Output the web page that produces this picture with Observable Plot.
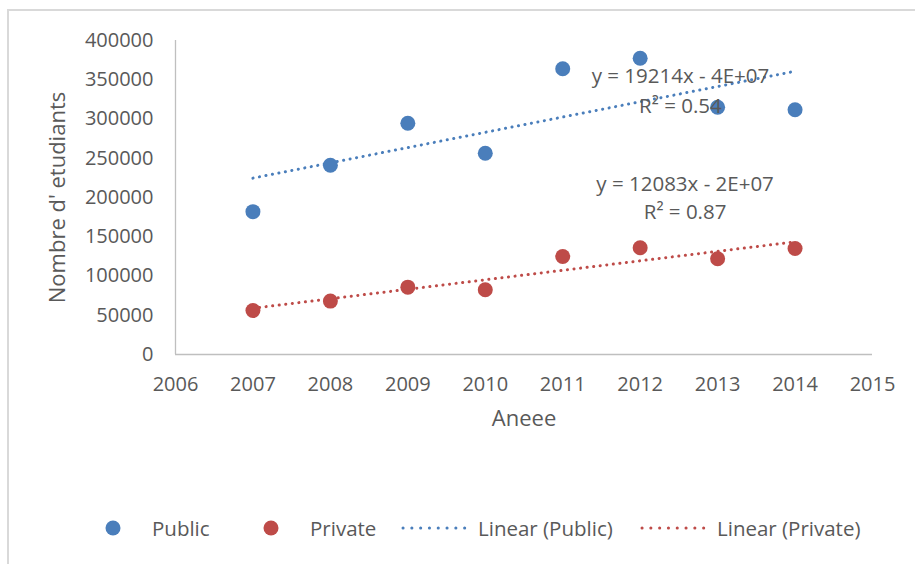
<!DOCTYPE html>
<html>
<head>
<meta charset="utf-8">
<script src="https://cdn.jsdelivr.net/npm/d3@7"></script>
<script src="https://cdn.jsdelivr.net/npm/@observablehq/plot@0.6"></script>
<style>
  html, body { margin: 0; padding: 0; background: #fff; }
  #frame { position: absolute; left: 7px; top: 9px; width: 908px; height: 555px; border-top: 2px solid #d9d9d9; border-left: 2px solid #d9d9d9; box-sizing: border-box; }
  #chart { position: absolute; left: 0; top: 0; }
  #legend { position: absolute; top: 512px; left: 0; width: 915px; height: 32px; font-family: "Open Sans", sans-serif; font-size: 20.5px; color: #595959; }
  .li { position: absolute; top: 0; display: flex; align-items: center; height: 32px; }
</style>
</head>
<body>
<div id="frame"></div>
<div id="chart"></div>
<div id="legend"></div>
<script>
const years = [2007, 2008, 2009, 2010, 2011, 2012, 2013, 2014];
const publicValues = [182000, 241000, 294600, 256400, 364000, 377400, 315000, 311700];
const privateValues = [56000, 68000, 85800, 82400, 124800, 135900, 121900, 135000];
const xTicks = [2006, 2007, 2008, 2009, 2010, 2011, 2012, 2013, 2014, 2015];
const yTicks = [0, 50000, 100000, 150000, 200000, 250000, 300000, 350000, 400000];
const equationLabels = ["y = 19214x - 4E+07", "R² = 0.54", "y = 12083x - 2E+07", "R² = 0.87"];
const equationYears = [2012.52, 2012.52, 2012.58, 2012.58];
const equationValues = [354000, 316000, 216600, 180900];

const blue = "#4a7ebb";
const red = "#be4b48";
const gray = "#595959";
const font = "Open Sans, sans-serif";

const pub = years.map((x, i) => ({x, y: publicValues[i]}));
const pri = years.map((x, i) => ({x, y: privateValues[i]}));
const eq = equationLabels.map((t, i) => ({t, x: equationYears[i], y: equationValues[i]}));

const chart = Plot.plot({
  width: 915,
  height: 470,
  marginLeft: 175,
  marginRight: 43,
  marginTop: 40,
  marginBottom: 116,
  style: {fontFamily: font, color: gray, background: "transparent"},
  x: {domain: [2006, 2015]},
  y: {domain: [0, 400000]},
  marks: [
    Plot.ruleY([0], {stroke: "#bfbfbf", strokeWidth: 1.3}),
    Plot.ruleX([2006], {y1: 0, y2: 400000, stroke: "#bfbfbf", strokeWidth: 1.3}),
    Plot.axisX({ticks: xTicks, tickFormat: d => String(d), tickSize: 0, tickPadding: 22, fontSize: 20, label: null, fill: gray}),
    Plot.axisY({ticks: yTicks, tickFormat: d => String(d), tickSize: 0, tickPadding: 22, fontSize: 20, label: null, fill: gray}),
    Plot.text(["Nombre d' etudiants"], {frameAnchor: "left", textAnchor: "middle", rotate: -90, dx: -118, text: d => d, fontSize: 22, fill: gray}),
    Plot.text(["Aneee"], {frameAnchor: "bottom", dy: 71, text: d => d, fontSize: 22, fill: gray}),
    Plot.linearRegressionY(pub, {x: "x", y: "y", ci: 0, stroke: blue, strokeWidth: 3, strokeDasharray: "0.1,6.5", strokeLinecap: "round"}),
    Plot.linearRegressionY(pri, {x: "x", y: "y", ci: 0, stroke: red, strokeWidth: 3, strokeDasharray: "0.1,6.5", strokeLinecap: "round"}),
    Plot.dot(pub, {x: "x", y: "y", r: 7.5, fill: blue, stroke: null}),
    Plot.dot(pri, {x: "x", y: "y", r: 7.5, fill: red, stroke: null}),
    Plot.text(eq, {x: "x", y: "y", text: "t", fontSize: 20.5, fill: gray})
  ]
});
document.getElementById("chart").appendChild(chart);

const legendItems = [
  {label: "Public", kind: "dot", color: blue, left: 105, textLeft: 152},
  {label: "Private", kind: "dot", color: red, left: 263, textLeft: 310},
  {label: "Linear (Public)", kind: "line", color: blue, left: 400, textLeft: 478},
  {label: "Linear (Private)", kind: "line", color: red, left: 639, textLeft: 717}
];
const legend = document.getElementById("legend");
for (const it of legendItems) {
  const sym = document.createElement("div");
  sym.className = "li";
  sym.style.left = it.left + "px";
  if (it.kind === "dot") {
    sym.innerHTML = `<svg width="16" height="16"><circle cx="8" cy="8" r="7.5" fill="${it.color}"/></svg>`;
  } else {
    sym.innerHTML = `<svg width="68" height="10"><line x1="3" y1="5" x2="65" y2="5" stroke="${it.color}" stroke-width="3" stroke-dasharray="0.1,8.7" stroke-linecap="round"/></svg>`;
  }
  legend.appendChild(sym);
  const txt = document.createElement("div");
  txt.className = "li";
  txt.style.left = it.textLeft + "px";
  txt.textContent = it.label;
  legend.appendChild(txt);
}
</script>
</body>
</html>
